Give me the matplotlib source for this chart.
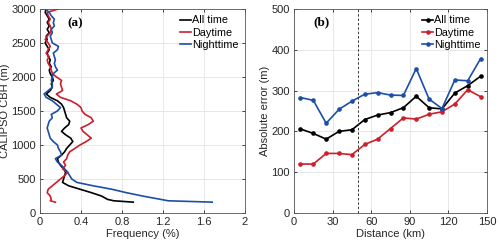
import matplotlib
matplotlib.use("Agg")
from matplotlib import pyplot as plt

plt.rcParams['font.family'] = ['Liberation Sans', 'DejaVu Sans']

# panel (a): frequency profiles vs. cloud base height
heights = [160, 180, 200, 250, 300, 350, 400, 450, 500, 550, 600, 650, 700, 750,
           800, 850, 900, 950, 1000, 1050, 1100, 1150, 1200, 1250, 1300, 1350,
           1400, 1450, 1500, 1550, 1600, 1650, 1700, 1750, 1800, 1850, 1900,
           1950, 2000, 2050, 2100, 2150, 2200, 2250, 2300, 2350, 2400, 2450,
           2500, 2550, 2600, 2650, 2700, 2750, 2800, 2850, 2900, 2950, 3000]

freq_all = [0.91, 0.72, 0.66, 0.60, 0.50, 0.39, 0.28, 0.22, 0.23, 0.24, 0.25, 0.23,
            0.20, 0.18, 0.17, 0.21, 0.24, 0.26, 0.29, 0.32, 0.30, 0.25, 0.21, 0.24,
            0.28, 0.29, 0.26, 0.25, 0.24, 0.23, 0.21, 0.17, 0.10, 0.06, 0.10, 0.12,
            0.11, 0.13, 0.12, 0.10, 0.09, 0.11, 0.09, 0.10, 0.08, 0.07, 0.09, 0.07,
            0.05, 0.07, 0.06, 0.09, 0.07, 0.09, 0.07, 0.09, 0.07, 0.05, 0.06]

freq_day = [0.15, 0.10, 0.11, 0.10, 0.07, 0.08, 0.12, 0.16, 0.20, 0.24, 0.27, 0.22,
            0.25, 0.23, 0.26, 0.27, 0.29, 0.34, 0.39, 0.45, 0.50, 0.46, 0.42, 0.40,
            0.47, 0.52, 0.50, 0.44, 0.41, 0.40, 0.36, 0.30, 0.20, 0.16, 0.22, 0.21,
            0.20, 0.21, 0.16, 0.12, 0.11, 0.10, 0.08, 0.07, 0.09, 0.06, 0.08, 0.10,
            0.08, 0.05, 0.07, 0.10, 0.11, 0.10, 0.08, 0.10, 0.08, 0.07, 0.18]

freq_night = [1.68, 1.25, 1.18, 1.00, 0.84, 0.70, 0.52, 0.36, 0.31, 0.29, 0.27, 0.24,
              0.21, 0.17, 0.15, 0.21, 0.20, 0.18, 0.17, 0.13, 0.10, 0.09, 0.08, 0.07,
              0.08, 0.09, 0.12, 0.11, 0.17, 0.20, 0.16, 0.12, 0.06, 0.04, 0.08, 0.12,
              0.12, 0.11, 0.12, 0.13, 0.17, 0.15, 0.14, 0.15, 0.14, 0.13, 0.17, 0.18,
              0.12, 0.11, 0.10, 0.12, 0.11, 0.14, 0.13, 0.14, 0.11, 0.09, 0.05]

# panel (b): absolute error vs. distance
distance = [5, 15, 25, 35, 45, 55, 65, 75, 85, 95, 105, 115, 125, 135, 145]
err_all = [206, 195, 181, 200, 204, 229, 240, 246, 258, 286, 258, 255, 294, 312, 335]
err_day = [120, 120, 146, 146, 143, 168, 181, 207, 233, 230, 242, 248, 267, 302, 285]
err_night = [283, 276, 220, 254, 274, 291, 295, 289, 288, 354, 279, 256, 326, 324, 378]

c_all = "black"
c_day = "#cc1f2b"
c_night = "#1c4ea8"
txt = "#262626"

fig = plt.figure(figsize=(5.0, 2.48), dpi=100)
ax1 = fig.add_axes([0.08, 0.141, 0.41, 0.823])
ax2 = fig.add_axes([0.588, 0.141, 0.386, 0.823])


def style(ax):
    ax.grid(True, color="#e3e3e3", linewidth=0.6)
    ax.set_axisbelow(True)
    ax.tick_params(direction="in", length=2.5, width=0.6, labelsize=8,
                   colors=txt, top=True, right=True, pad=3)
    for s in ax.spines.values():
        s.set_color("#555555")
        s.set_linewidth(0.6)


# (a)
ax1.plot(freq_all, heights, color=c_all, lw=1.2, label="All time")
ax1.plot(freq_day, heights, color=c_day, lw=1.2, label="Daytime")
ax1.plot(freq_night, heights, color=c_night, lw=1.2, label="Nighttime")
ax1.set_xlim(0, 2)
ax1.set_ylim(0, 3000)
ax1.set_xticks([0, 0.4, 0.8, 1.2, 1.6, 2])
ax1.set_xticklabels(["0", "0.4", "0.8", "1.2", "1.6", "2"])
ax1.set_yticks([0, 500, 1000, 1500, 2000, 2500, 3000])
ax1.set_xlabel("Frequency (%)", fontsize=8, color=txt, labelpad=1)
ax1.set_ylabel("CALIPSO CBH (m)", fontsize=8, color=txt, labelpad=1)
style(ax1)
ax1.text(0.27, 2790, "(a)", fontsize=9.5, fontweight="bold", va="center",
         family=["Liberation Serif", "DejaVu Serif"])
ax1.legend(loc="upper right", frameon=False, fontsize=7.8, handlelength=1.0,
           handletextpad=0.1, labelspacing=0.2, borderaxespad=0.2)

# (b)
ax2.plot(distance, err_all, color=c_all, lw=1.2, marker="o", ms=2.3, label="All time")
ax2.plot(distance, err_day, color=c_day, lw=1.2, marker="o", ms=2.3, label="Daytime")
ax2.plot(distance, err_night, color=c_night, lw=1.2, marker="o", ms=2.3, label="Nighttime")
ax2.axvline(50, color="#333333", lw=0.7, ls=(0, (2.5, 2)))
ax2.set_xlim(0, 150)
ax2.set_ylim(0, 500)
ax2.set_xticks([0, 30, 60, 90, 120, 150])
ax2.set_yticks([0, 100, 200, 300, 400, 500])
ax2.set_xlabel("Distance (km)", fontsize=8, color=txt, labelpad=1)
ax2.set_ylabel("Absolute error (m)", fontsize=8, color=txt, labelpad=1)
style(ax2)
ax2.text(14.8, 468, "(b)", fontsize=9.5, fontweight="bold", va="center",
         family=["Liberation Serif", "DejaVu Serif"])
ax2.legend(loc="upper right", frameon=False, fontsize=7.8, handlelength=1.0,
           handletextpad=0.1, labelspacing=0.2, borderaxespad=0.2)

fig.savefig("out.png", dpi=100)
